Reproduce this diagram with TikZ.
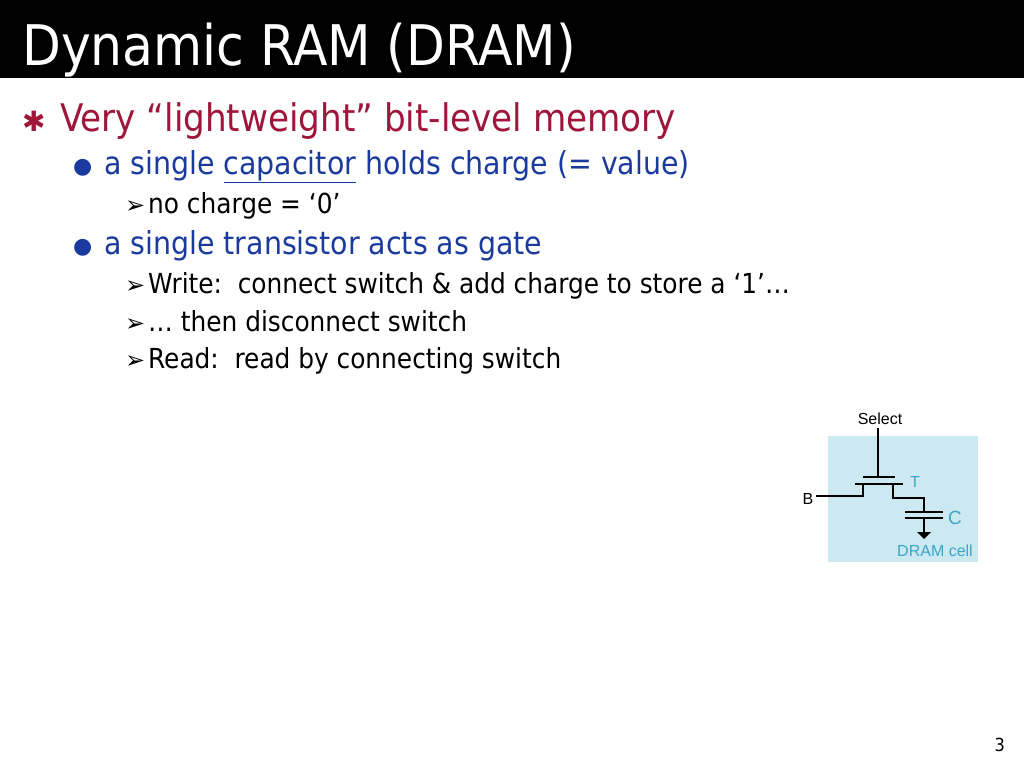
\documentclass[tikz,border=0pt]{standalone}
\usepackage{fontspec}
\setmainfont{DejaVu Sans Condensed}
\newfontfamily\cfont{Liberation Sans}
\newfontfamily\sym{DejaVu Sans}
\definecolor{lone}{HTML}{A0163A}
\definecolor{ltwo}{HTML}{1B3A9E}
\definecolor{cellbg}{HTML}{CCE9F1}
\definecolor{cyanl}{HTML}{3AA6C9}
\tikzset{
 lv1/.style={anchor=base west,inner sep=0,text=lone,font=\fontsize{38}{42}\selectfont},
 lv2/.style={anchor=base west,inner sep=0,text=ltwo,font=\fontsize{31.6}{36}\selectfont},
 lv3/.style={anchor=base west,inner sep=0,text=black,font=\fontsize{27.6}{32}\selectfont},
 bul3/.style={anchor=base west,inner sep=0,font=\sym\fontsize{24}{28}\selectfont},
 bul2/.style={anchor=base west,inner sep=0,text=ltwo,font=\sym\fontsize{22}{26}\selectfont},
 wire/.style={line width=1.6pt,black},
 clab/.style={inner sep=0,font=\cfont\fontsize{16}{18}\selectfont}
}
\begin{document}
\begin{tikzpicture}[x=1pt,y=-1pt]
\useasboundingbox[fill=white] (0,0) rectangle (1024,768);
\fill[black] (0,0) rectangle (1024,78);
\node[anchor=base west,inner sep=0,text=white,font=\fontsize{56}{60}\selectfont] (title) at (22,65) {Dynamic RAM (DRAM)};
\node[anchor=base west,inner sep=0,text=lone,font=\sym\fontsize{28}{30}\selectfont] (b1) at (22,131) {✱};
\node[lv1] (t1) at (60,131) {Very “lightweight” bit-level memory};
\node[bul2] (b2) at (73,173) {●};
\node[lv2] (t2) at (104,174) {a single \underline{capacitor} holds charge (= value)};
\node[bul3] (b3) at (125,213) {➢};
\node[lv3] (t3) at (148,213) {no charge = ‘0’};
\node[bul2] (b4) at (73,253) {●};
\node[lv2] (t4) at (104,254) {a single transistor acts as gate};
\node[bul3] (b5) at (125,293) {➢};
\node[lv3] (t5) at (148,293) {Write:\ \ connect switch \& add charge to store a ‘1’…};
\node[bul3] (b6) at (125,331) {➢};
\node[lv3] (t6) at (148,331) {… then disconnect switch};
\node[bul3] (b7) at (125,368) {➢};
\node[lv3] (t7) at (148,368) {Read:\ \ read by connecting switch};
% circuit
\fill[cellbg] (828,436) rectangle (978,562);
\node[clab] (sel) at (880,419) {Select};
\node[clab] (B) at (808,499) {B};
\node[clab,text=cyanl] (T) at (915,482) {T};
\node[clab,text=cyanl,font=\cfont\fontsize{19}{20}\selectfont] (C) at (955,518) {C};
\node[clab,text=cyanl] (cell) at (935,551) {DRAM cell};
\coordinate (s1) at (878,428);
\coordinate (g) at (878,477);
\draw[wire] (s1) -- (g);
\draw[wire] (863,477) -- (895,477);
\draw[wire] (855,484) -- (903,484);
\draw[wire] (863,484) -- (863,496) -- (816,496);
\draw[wire] (893,484) -- (893,498) -- (924,498) -- (924,512);
\draw[wire] (905,512) -- (943,512);
\draw[wire] (905,518) -- (943,518);
\draw[wire] (924,518) -- (924,532);
\fill[black] (917,532) -- (931,532) -- (924,539) -- cycle;
\node[anchor=south east,inner sep=0,font=\fontsize{18}{20}\selectfont] (pg) at (1005,752) {3};
\end{tikzpicture}
\end{document}
